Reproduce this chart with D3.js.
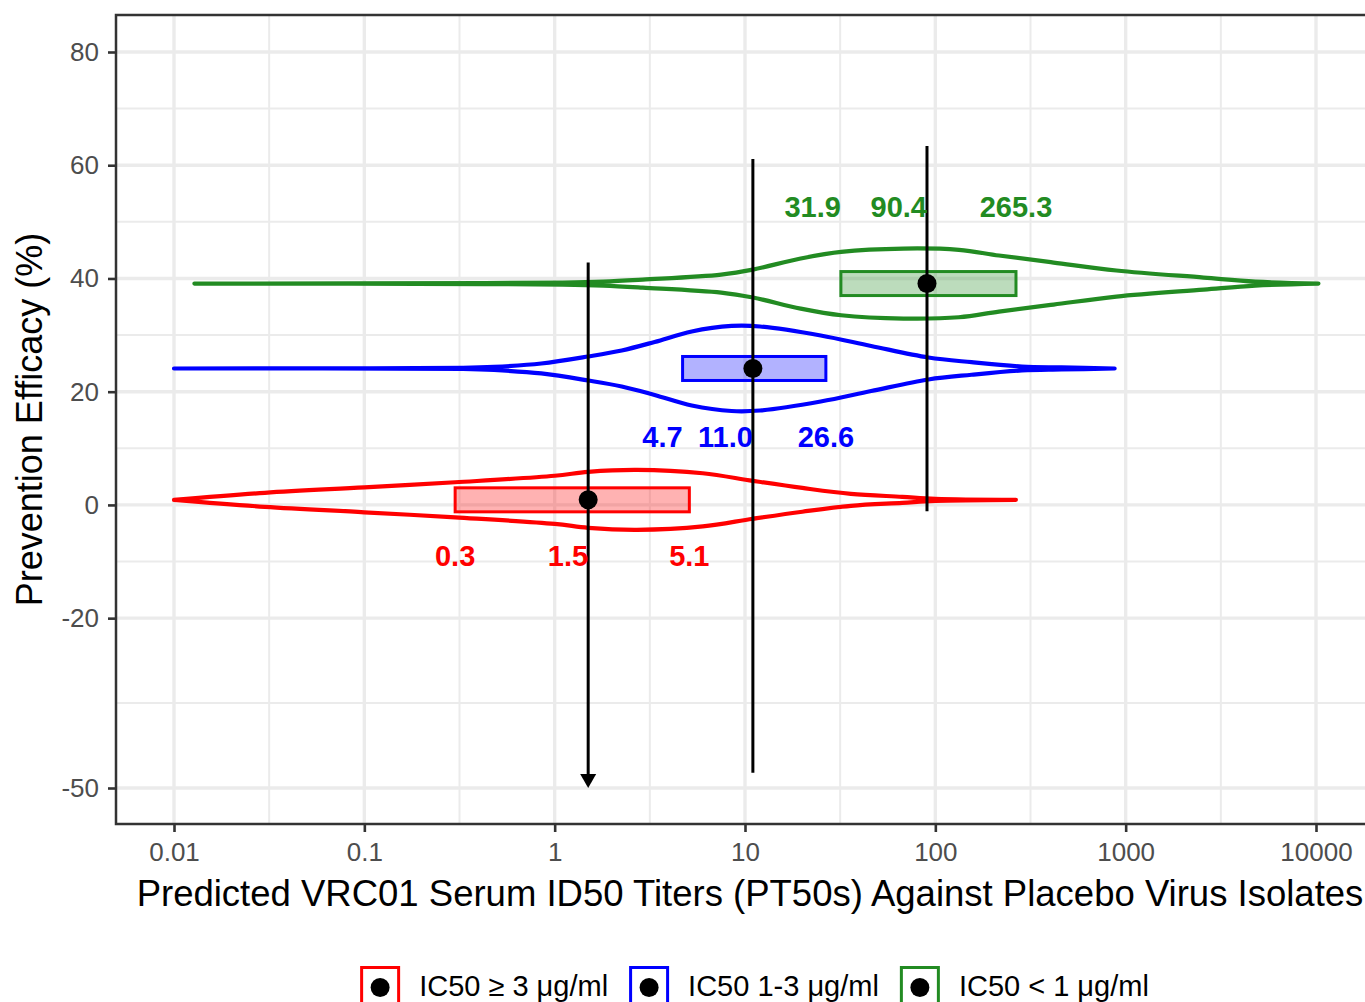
<!DOCTYPE html>
<html>
<head>
<meta charset="utf-8">
<script src="https://cdnjs.cloudflare.com/ajax/libs/d3/7.8.5/d3.min.js"></script>
<style>
  body { margin: 0; background: #fff; }
  text { font-family: "Liberation Sans", Arial, sans-serif; }
</style>
</head>
<body>
<svg id="chart" width="1365" height="1002"></svg>
<script>
// groups (one violin each)
var groups = ["IC50 ≥ 3 μg/ml", "IC50 1-3 μg/ml", "IC50 < 1 μg/ml"];
var colors = ["#FF0000", "#0000FF", "#228B22"];

// prevention efficacy (%) and its CI per group
var pe = [0.9, 24.1, 39.1];
var peLow = [-50, -47.3, -1.1];
var peHigh = [42.8, 61.1, 63.4];
var lowTruncated = [true, false, false];

// PT50 quartiles per group
var q1 = [0.3, 4.7, 31.9];
var med = [1.5, 11.0, 90.4];
var q3 = [5.1, 26.6, 265.3];

// violin outlines: titer and half width (in % units)
var redTiter = [0.01, 0.03, 0.1, 0.3, 1, 1.5, 2.7, 6, 11, 20, 36, 67, 100, 265];
var redHalf = [0, 1.24, 2.2, 3.1, 4.25, 4.95, 5.3, 4.7, 3.35, 2.1, 1.06, 0.53, 0.18, 0];
var blueTiter = [0.01, 0.33, 0.48, 0.85, 1.5, 2.25, 3.35, 5.25, 8.5, 12, 25, 46, 92, 155, 285, 460, 875];
var blueHalf = [0, 0.09, 0.27, 0.88, 2.12, 3.18, 4.68, 6.54, 7.51, 7.42, 5.83, 3.98, 1.94, 1.11, 0.35, 0.18, 0];
var greenTiter = [0.0128, 0.43, 1.1, 1.8, 2.9, 7.5, 11, 19.6, 32, 68, 133, 216, 418, 894, 2570, 4800, 10300];
var greenHalf = [0, 0.09, 0.18, 0.35, 0.71, 1.59, 2.47, 4.42, 5.6, 6.18, 5.95, 4.95, 3.71, 2.3, 1.06, 0.35, 0];

// axis ticks
var xTicks = [0.01, 0.1, 1, 10, 100, 1000, 10000];
var yTicks = [80, 60, 40, 20, 0, -20, -50];

var violins = [
  {titer: redTiter, half: redHalf},
  {titer: blueTiter, half: blueHalf},
  {titer: greenTiter, half: greenHalf}
];

// layout
var panel = {left: 116, right: 1384, top: 15, bottom: 824};
var svg = d3.select("#chart");

var x = d3.scaleLog().domain([0.01, 10000]).range([174, 1316]);
var y = d3.scaleLinear().domain([-50, 80]).range([788, 52]);

var boxHalfPx = 12;
var labelDy = [56, 68, -77];
var labelAnchors = [["middle", "end", "middle"], ["end", "end", "middle"], ["end", "end", "middle"]];

svg.append("rect")
  .attr("width", 1365).attr("height", 1002).attr("fill", "#fff");

// minor gridlines sit halfway between the major ones
var xMinor = xTicks.slice(0, -1).map(function(t) { return Math.sqrt(t * t * 10); });
var yMinor = [];
for (var i = 0; i < yTicks.length - 1; i++) yMinor.push((yTicks[i] + yTicks[i + 1]) / 2);

var grid = svg.append("g");
grid.selectAll(".xminor").data(xMinor).enter().append("line")
  .attr("x1", d => x(d)).attr("x2", d => x(d))
  .attr("y1", panel.top).attr("y2", panel.bottom)
  .attr("stroke", "#EBEBEB").attr("stroke-width", 2);
grid.selectAll(".yminor").data(yMinor).enter().append("line")
  .attr("x1", panel.left).attr("x2", panel.right)
  .attr("y1", d => y(d)).attr("y2", d => y(d))
  .attr("stroke", "#EBEBEB").attr("stroke-width", 2);
grid.selectAll(".xmajor").data(xTicks).enter().append("line")
  .attr("x1", d => x(d)).attr("x2", d => x(d))
  .attr("y1", panel.top).attr("y2", panel.bottom)
  .attr("stroke", "#EBEBEB").attr("stroke-width", 3.4);
grid.selectAll(".ymajor").data(yTicks).enter().append("line")
  .attr("x1", panel.left).attr("x2", panel.right)
  .attr("y1", d => y(d)).attr("y2", d => y(d))
  .attr("stroke", "#EBEBEB").attr("stroke-width", 3.4);

// violins
var plot = svg.append("g");
violins.forEach(function(v, g) {
  var pts = v.titer.map(function(t, k) { return {t: t, w: v.half[k]}; });
  var area = d3.area()
    .x(d => x(d.t))
    .y0(d => y(pe[g] - d.w))
    .y1(d => y(pe[g] + d.w))
    .curve(d3.curveCatmullRom.alpha(0.5));
  plot.append("path")
    .attr("d", area(pts))
    .attr("fill", "none")
    .attr("stroke", colors[g])
    .attr("stroke-width", 4.2)
    .attr("stroke-linejoin", "round")
    .attr("stroke-linecap", "round");
});

// quartile boxes
plot.selectAll(".box").data(groups).enter().append("rect")
  .attr("x", (d, g) => x(q1[g]))
  .attr("width", (d, g) => x(q3[g]) - x(q1[g]))
  .attr("y", (d, g) => y(pe[g]) - boxHalfPx)
  .attr("height", boxHalfPx * 2)
  .attr("fill", (d, g) => colors[g])
  .attr("fill-opacity", 0.3)
  .attr("stroke", (d, g) => colors[g])
  .attr("stroke-width", 3);

// CI lines
var arrowH = 14, arrowW = 8;
plot.selectAll(".ci").data(groups).enter().append("line")
  .attr("x1", (d, g) => x(med[g])).attr("x2", (d, g) => x(med[g]))
  .attr("y1", (d, g) => y(peHigh[g]))
  .attr("y2", (d, g) => y(peLow[g]) - (lowTruncated[g] ? arrowH - 1 : 0))
  .attr("stroke", "#000").attr("stroke-width", 3);
groups.forEach(function(d, g) {
  if (!lowTruncated[g]) return;
  var cx = x(med[g]), cy = y(peLow[g]);
  plot.append("path")
    .attr("d", "M" + (cx - arrowW) + "," + (cy - arrowH) + "L" + (cx + arrowW) + "," + (cy - arrowH) + "L" + cx + "," + cy + "Z")
    .attr("fill", "#000");
});

// median points
plot.selectAll(".pt").data(groups).enter().append("circle")
  .attr("cx", (d, g) => x(med[g]))
  .attr("cy", (d, g) => y(pe[g]))
  .attr("r", 9.5)
  .attr("fill", "#000");

// quartile labels
var fmt = d3.format(".1f");
groups.forEach(function(d, g) {
  [q1[g], med[g], q3[g]].forEach(function(v, k) {
    plot.append("text")
      .attr("x", x(v))
      .attr("y", y(pe[g]) + labelDy[g])
      .attr("dy", "0.36em")
      .attr("text-anchor", labelAnchors[g][k])
      .attr("font-size", 29)
      .attr("font-weight", "bold")
      .attr("fill", colors[g])
      .text(fmt(v));
  });
});

// panel border
svg.append("rect")
  .attr("x", panel.left).attr("y", panel.top)
  .attr("width", panel.right - panel.left).attr("height", panel.bottom - panel.top)
  .attr("fill", "none").attr("stroke", "#333").attr("stroke-width", 2.5);

// axes
var xAxis = svg.append("g")
  .attr("transform", "translate(0," + panel.bottom + ")")
  .call(d3.axisBottom(x).tickValues(xTicks).tickFormat(d => String(d)).tickSize(8).tickPadding(11));
var yAxis = svg.append("g")
  .attr("transform", "translate(" + panel.left + ",0)")
  .call(d3.axisLeft(y).tickValues(yTicks).tickFormat(d => String(d)).tickSize(8).tickPadding(9));
[xAxis, yAxis].forEach(function(a) {
  a.select(".domain").remove();
  a.selectAll(".tick line").attr("stroke", "#333").attr("stroke-width", 2.6);
  a.selectAll(".tick text")
    .attr("fill", "#4D4D4D")
    .attr("font-size", 26)
    .attr("font-family", "'Liberation Sans', Arial, sans-serif");
});

// axis titles
svg.append("text")
  .attr("x", (panel.left + panel.right) / 2)
  .attr("y", 906)
  .attr("text-anchor", "middle")
  .attr("font-size", 36.5)
  .attr("fill", "#000")
  .text("Predicted VRC01 Serum ID50 Titers (PT50s) Against Placebo Virus Isolates");
svg.append("text")
  .attr("transform", "translate(42," + (panel.top + panel.bottom) / 2 + ") rotate(-90)")
  .attr("text-anchor", "middle")
  .attr("font-size", 36)
  .attr("fill", "#000")
  .text("Prevention Efficacy (%)");

// legend
var legend = svg.append("g");
var keySize = 40, keyGap = 19, itemGap = 21, legendY = 986;
var items = groups.map(function(name, g) {
  var item = legend.append("g");
  item.append("rect")
    .attr("x", 1.5).attr("y", -keySize / 2 + 1.5)
    .attr("width", keySize - 3).attr("height", keySize - 3)
    .attr("fill", "#fff")
    .attr("stroke", colors[g]).attr("stroke-width", 3);
  item.append("circle")
    .attr("cx", keySize / 2).attr("cy", 1.5).attr("r", 9.5).attr("fill", "#000");
  var t = item.append("text")
    .attr("x", keySize + keyGap).attr("dy", "0.36em")
    .attr("font-size", 29).attr("fill", "#000")
    .text(name);
  return {g: item, w: keySize + keyGap + t.node().getComputedTextLength()};
});
var total = d3.sum(items, d => d.w) + itemGap * (items.length - 1);
var cursor = 754.5 - total / 2;
items.forEach(function(it) {
  it.g.attr("transform", "translate(" + cursor + "," + legendY + ")");
  cursor += it.w + itemGap;
});
</script>
</body>
</html>
